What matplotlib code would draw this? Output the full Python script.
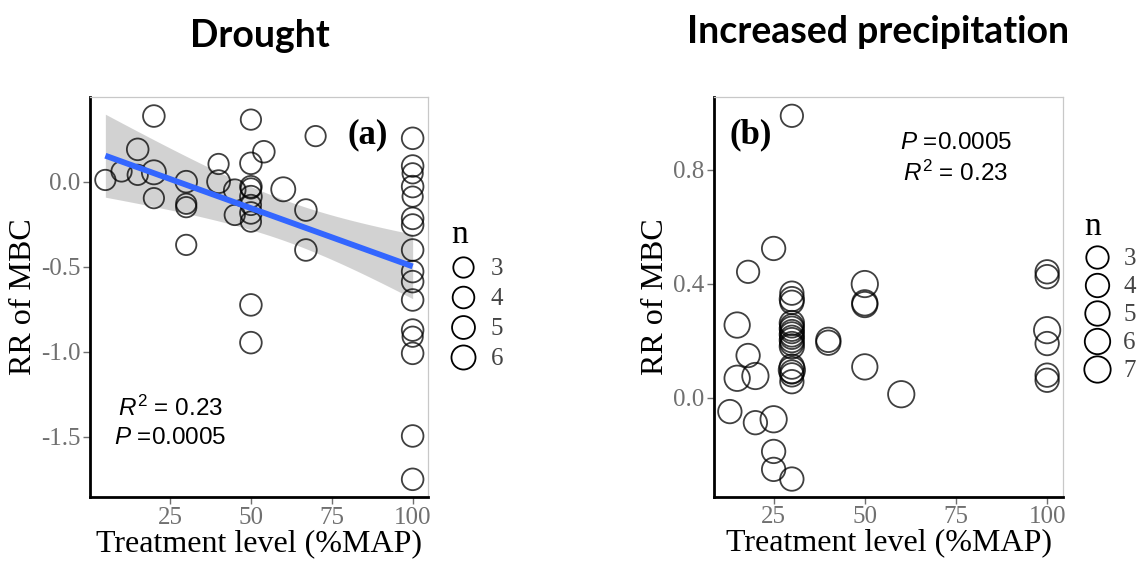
import numpy as np
import matplotlib
matplotlib.use("Agg")
import matplotlib.pyplot as plt
from matplotlib.lines import Line2D

plt.rcParams['mathtext.fontset'] = 'custom'
plt.rcParams['mathtext.rm'] = 'Liberation Sans'
plt.rcParams['mathtext.it'] = 'Liberation Sans:italic'

# ---------------- data: panel (a) Drought ----------------
drought_x = [5, 10, 15, 15, 20, 20, 20, 30, 30, 30, 30, 40, 40, 45, 45,
             50, 50, 54, 50, 50, 50, 50, 50, 50, 50, 50, 60, 67, 67, 70,
             100, 100, 100, 100, 100, 100, 100, 100, 100, 100, 100, 100, 100, 100, 100, 100]
drought_y = [0.01, 0.06, 0.19, 0.04, 0.386, 0.055, -0.097, 0.0, -0.13, -0.15, -0.372, 0.104, 0.0, -0.196, -0.05,
             0.365, 0.108, 0.176, -0.03, -0.04, -0.088, -0.137, -0.184, -0.235, -0.725, -0.947, -0.045, -0.167, -0.402, 0.268,
             0.255, 0.092, 0.049, -0.029, -0.088, -0.216, -0.255, -0.402, -0.529, -0.588, -0.696, -0.873, -0.912, -1.01, -1.496, -1.751]
drought_n = [3, 3, 4, 3, 4, 6, 3, 4, 3, 3, 3, 3, 5, 3, 4,
             3, 4, 4, 4, 3, 4, 3, 4, 3, 4, 4, 6, 4, 4, 3,
             4, 4, 3, 4, 3, 4, 4, 4, 4, 4, 4, 4, 3, 4, 4, 4]

# ---------------- data: panel (b) Increased precipitation ----------------
precip_x = [30, 25, 18, 15, 18, 15, 20, 13, 20, 25, 25, 25, 30,
            30, 30, 30, 30, 30, 30, 30, 30, 30, 30, 30, 30, 30, 30, 30, 30, 30,
            40, 40, 50, 50, 50, 50, 60,
            100, 100, 100, 100, 100, 100]
precip_y = [0.99, 0.524, 0.442, 0.255, 0.148, 0.068, 0.076, -0.049, -0.088, -0.076, -0.189, -0.252, -0.286,
            0.367, 0.346, 0.335, 0.262, 0.252, 0.242, 0.232, 0.222, 0.212, 0.202, 0.19, 0.18, 0.109, 0.097, 0.09, 0.08, 0.056,
            0.203, 0.193, 0.399, 0.333, 0.327, 0.108, 0.012,
            0.442, 0.425, 0.237, 0.19, 0.079, 0.061]
precip_n = [3, 4, 3, 6, 4, 6, 7, 4, 4, 7, 4, 4, 4,
            4, 5, 4, 5, 4, 5, 4, 5, 4, 5, 4, 5, 5, 7, 4, 4, 4,
            5, 5, 7, 6, 6, 6, 7,
            4, 4, 7, 4, 4, 4]

legend_a = [3, 4, 5, 6]
legend_b = [3, 4, 5, 6, 7]

xticks = [25, 50, 75, 100]
yticks_a = [0.0, -0.5, -1.0, -1.5]
yticks_b = [0.0, 0.4, 0.8]

SERIF = 'Liberation Serif'
SANS = 'Liberation Sans'
TICK_GRAY = '#707070'


def size_map(n, nmin, nmax, smin, smax):
    n = np.asarray(n, dtype=float)
    return smin + (n - nmin) / (nmax - nmin) * (smax - smin)


fig = plt.figure(figsize=(11.46, 5.61), dpi=100)
ax_a = fig.add_axes([90 / 1146, 1 - 497 / 561, 338 / 1146, 400 / 561])
ax_b = fig.add_axes([714 / 1146, 1 - 496.7 / 561, 349 / 1146, 399.4 / 561])


def style(ax, yt):
    for s in ['left', 'bottom']:
        ax.spines[s].set_color('black')
        ax.spines[s].set_linewidth(2.0)
    for s in ['top', 'right']:
        ax.spines[s].set_color('#c8c8c8')
        ax.spines[s].set_linewidth(0.9)
    ax.set_xticks(xticks)
    ax.set_xticklabels([str(t) for t in xticks])
    ax.set_yticks(yt)
    ax.set_yticklabels(['%.1f' % t for t in yt])
    ax.tick_params(axis='both', colors=TICK_GRAY, length=5, width=1.0,
                   labelsize=18, pad=2)
    for lab in ax.get_xticklabels() + ax.get_yticklabels():
        lab.set_fontfamily(SERIF)
        lab.set_color(TICK_GRAY)
    ax.set_xlabel('Treatment level (%MAP)', fontfamily=SERIF, fontsize=23, labelpad=0)
    ax.set_ylabel('RR of MBC', fontfamily=SERIF, fontsize=23, labelpad=2)


# ---------- panel (a) ----------
xa = np.array(drought_x, float)
ya = np.array(drought_y, float)
sa = size_map(drought_n, 3, 6, 215, 300)

# OLS fit with 95% confidence band
n_obs = len(xa)
coef = np.polyfit(xa, ya, 1)
resid = ya - np.polyval(coef, xa)
s_err = np.sqrt(np.sum(resid ** 2) / (n_obs - 2))
sxx = np.sum((xa - xa.mean()) ** 2)
t_crit = 2.015
xf = np.linspace(xa.min(), xa.max(), 200)
yf = np.polyval(coef, xf)
se = s_err * np.sqrt(1 / n_obs + (xf - xa.mean()) ** 2 / sxx)
ax_a.fill_between(xf, yf - t_crit * se, yf + t_crit * se, color='#c4c4c4', alpha=0.75,
                  linewidth=0, zorder=1)
ax_a.scatter(xa, ya, s=sa, facecolors='none', edgecolors=(0, 0, 0, 0.75), linewidths=1.3, zorder=2)
ax_a.plot(xf, yf, color='#3366FF', linewidth=4.2, zorder=3, solid_capstyle='butt')

ax_a.set_xlim(0.25, 104.75)
ax_a.set_ylim(-1.855, 0.498)
style(ax_a, yticks_a)

ax_a.text(0.821, 0.905, '(a)', transform=ax_a.transAxes, fontfamily=SERIF,
          fontweight='bold', fontsize=25, ha='center', va='center')
ax_a.text(0.237, 0.2225, r'$\it{R}^2$ = 0.23', transform=ax_a.transAxes, fontfamily=SANS,
          fontsize=17.5, ha='center', va='center')
ax_a.text(0.237, 0.1475, r'$\it{P}$ =0.0005', transform=ax_a.transAxes, fontfamily=SANS,
          fontsize=17.5, ha='center', va='center')

handles_a = [Line2D([], [], linestyle='none', marker='o', markerfacecolor='none',
                    markeredgecolor='black', markeredgewidth=1.3,
                    markersize=np.sqrt(size_map(v, 3, 6, 215, 300)))
             for v in legend_a]
leg_a = ax_a.legend(handles_a, [str(v) for v in legend_a], title='n', loc='center left',
                    bbox_to_anchor=(1.038, 0.505), frameon=False, handlelength=1.0,
                    handletextpad=0.6, labelspacing=0.3, borderaxespad=0,
                    prop={'family': SERIF, 'size': 18},
                    title_fontproperties={'family': SERIF, 'size': 24})
leg_a._legend_box.align = 'left'
for t in leg_a.get_texts():
    t.set_color('#444444')

# ---------- panel (b) ----------
xb = np.array(precip_x, float)
yb = np.array(precip_y, float)
sb = size_map(precip_n, 3, 7, 260, 360)
ax_b.scatter(xb, yb, s=sb, facecolors='none', edgecolors=(0, 0, 0, 0.75), linewidths=1.3, zorder=2)
ax_b.set_xlim(8.65, 104.35)
ax_b.set_ylim(-0.348, 1.055)
style(ax_b, yticks_b)

ax_b.text(0.106, 0.906, '(b)', transform=ax_b.transAxes, fontfamily=SERIF,
          fontweight='bold', fontsize=25, ha='center', va='center')
ax_b.text(0.693, 0.885, r'$\it{P}$ =0.0005', transform=ax_b.transAxes, fontfamily=SANS,
          fontsize=17.5, ha='center', va='center')
ax_b.text(0.693, 0.81, r'$\it{R}^2$ = 0.23', transform=ax_b.transAxes, fontfamily=SANS,
          fontsize=17.5, ha='center', va='center')

handles_b = [Line2D([], [], linestyle='none', marker='o', markerfacecolor='none',
                    markeredgecolor='black', markeredgewidth=1.3,
                    markersize=np.sqrt(size_map(v, 3, 7, 260, 360)))
             for v in legend_b]
leg_b = ax_b.legend(handles_b, [str(v) for v in legend_b], title='n', loc='center left',
                    bbox_to_anchor=(1.033, 0.50), frameon=False, handlelength=1.0,
                    handletextpad=0.55, labelspacing=0.22, borderaxespad=0,
                    prop={'family': SERIF, 'size': 18},
                    title_fontproperties={'family': SERIF, 'size': 24})
leg_b._legend_box.align = 'left'
for t in leg_b.get_texts():
    t.set_color('#444444')

# ---------- titles ----------
fig.text(260 / 1146, 1 - 36 / 561, 'Drought', fontfamily='Lato', fontweight='bold',
         fontsize=27, ha='center', va='center')
fig.text(878 / 1146, 1 - 32 / 561, 'Increased precipitation', fontfamily='Lato',
         fontweight='bold', fontsize=27, ha='center', va='center')

fig.savefig('out.png', dpi=100)
